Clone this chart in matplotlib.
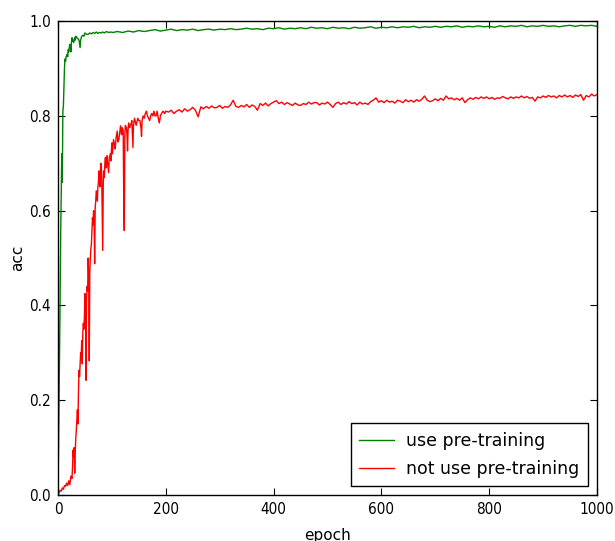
import matplotlib
matplotlib.use("Agg")
import matplotlib.pyplot as plt
from matplotlib import font_manager

# Data
pre_ep_head = [0, 1, 2, 3, 4, 5, 6, 7, 8, 9, 10, 11, 12, 13, 14, 15, 16, 17, 18, 19,
               20, 21, 22, 23, 24, 25, 26, 27, 28, 29, 30, 31, 32, 33, 35, 37, 39, 41, 42, 44,
               46, 48, 50, 53, 56, 59, 62, 65, 68, 71, 74, 77, 80, 83, 86, 90, 94, 98, 102]
pre_acc_head = [0.02, 0.1, 0.2, 0.3, 0.42, 0.55, 0.63, 0.72, 0.66, 0.81, 0.82, 0.86, 0.9, 0.92, 0.915,
                0.925, 0.926, 0.93, 0.925, 0.94, 0.935, 0.945, 0.951, 0.945, 0.935, 0.955, 0.965, 0.958,
                0.96, 0.955, 0.96, 0.965, 0.96, 0.968, 0.965, 0.963, 0.96, 0.944, 0.96, 0.968, 0.97,
                0.968, 0.975, 0.972, 0.972, 0.975, 0.973, 0.976, 0.974, 0.977, 0.974, 0.976, 0.975,
                0.977, 0.975, 0.978, 0.976, 0.977, 0.976]
pre_ep_tail = list(range(110, 1001, 10))
pre_acc_tail = [0.978, 0.976, 0.979, 0.977, 0.98, 0.978, 0.98, 0.982, 0.979, 0.981,
                0.983, 0.98, 0.982, 0.981, 0.983, 0.98, 0.982, 0.983, 0.981, 0.983,
                0.982, 0.984, 0.982, 0.983, 0.985, 0.983, 0.984, 0.982, 0.985, 0.984,
                0.986, 0.983, 0.985, 0.984, 0.986, 0.984, 0.987, 0.985, 0.986, 0.984,
                0.987, 0.985, 0.986, 0.984, 0.987, 0.985, 0.986, 0.988, 0.985, 0.987,
                0.986, 0.988, 0.986, 0.988, 0.987, 0.989, 0.986, 0.988, 0.987, 0.989,
                0.987, 0.989, 0.988, 0.99, 0.987, 0.989, 0.988, 0.99, 0.988, 0.989,
                0.987, 0.99, 0.988, 0.99, 0.989, 0.991, 0.988, 0.99, 0.989, 0.991,
                0.989, 0.99, 0.988, 0.99, 0.991, 0.989, 0.991, 0.99, 0.991, 0.989]

nopre_ep_head = [0, 2, 4, 6, 8, 10, 12, 14, 16, 18, 20, 22, 24, 26, 27, 28, 29, 30, 31, 32,
                 33, 34, 35, 36, 37, 38, 39, 40, 41, 42, 43, 44, 45, 46, 47, 48, 49, 50, 51, 52,
                 53, 54, 55, 56, 57, 58, 59, 60, 61, 62, 63, 64, 65, 66, 67, 68, 69, 70, 71, 72,
                 73, 74, 75, 76, 77, 78, 79, 80, 81, 82, 83, 84, 85, 86, 87, 88, 89, 90, 91, 92,
                 94, 95, 97, 98, 100, 101, 103, 105, 106, 108, 110, 111, 113, 115, 116, 118, 119, 121, 122, 123,
                 124, 125, 127, 128, 129, 130, 131, 133, 134, 136, 137, 138, 139, 140, 142, 143, 145, 146, 148, 150,
                 152, 154, 155, 156, 158, 160, 162, 164, 166, 168, 170, 172, 174, 176, 178, 180, 182, 184, 186, 188,
                 190, 192, 195, 198]
nopre_acc_head = [0.0, 0.005, 0.01, 0.008, 0.015, 0.012, 0.02, 0.018, 0.025, 0.02,
                  0.03, 0.022, 0.04, 0.035, 0.06, 0.095, 0.08, 0.1, 0.046, 0.09,
                  0.12, 0.137, 0.16, 0.18, 0.15, 0.22, 0.263, 0.25, 0.277, 0.3,
                  0.29, 0.326, 0.277, 0.34, 0.362, 0.35, 0.375, 0.425, 0.38, 0.242,
                  0.41, 0.44, 0.43, 0.5, 0.46, 0.283, 0.47, 0.5, 0.52, 0.53,
                  0.56, 0.585, 0.57, 0.6, 0.58, 0.488, 0.607, 0.62, 0.642, 0.63,
                  0.62, 0.65, 0.66, 0.684, 0.67, 0.65, 0.69, 0.70, 0.68, 0.6,
                  0.516, 0.66, 0.684, 0.67, 0.70, 0.712, 0.69, 0.70, 0.716, 0.70,
                  0.68, 0.71, 0.72, 0.705, 0.743, 0.72, 0.75, 0.74, 0.73, 0.755,
                  0.768, 0.745, 0.75, 0.77, 0.779, 0.76, 0.775, 0.77, 0.62, 0.558,
                  0.76, 0.78, 0.775, 0.76, 0.726, 0.77, 0.785, 0.775, 0.78, 0.785,
                  0.79, 0.76, 0.733, 0.78, 0.795, 0.79, 0.78, 0.785, 0.795, 0.79,
                  0.79, 0.775, 0.757, 0.79, 0.80, 0.795, 0.805, 0.81, 0.80, 0.795,
                  0.79, 0.80, 0.805, 0.80, 0.81, 0.80, 0.80, 0.81, 0.795, 0.785,
                  0.80, 0.805, 0.81, 0.805]
nopre_ep_tail = list(range(200, 1001, 5))
nopre_acc_tail = [0.81, 0.808, 0.812, 0.805, 0.81, 0.813, 0.808, 0.815, 0.81, 0.813,
                  0.818, 0.812, 0.798, 0.819, 0.815, 0.82, 0.816, 0.821, 0.817, 0.818,
                  0.822, 0.816, 0.82, 0.818, 0.823, 0.833, 0.82, 0.818, 0.822, 0.819,
                  0.824, 0.818, 0.823, 0.82, 0.812, 0.826, 0.822, 0.827, 0.821, 0.826,
                  0.829, 0.832, 0.826, 0.829, 0.824, 0.828, 0.825, 0.822, 0.827, 0.823,
                  0.822, 0.826, 0.824, 0.829, 0.825, 0.828, 0.828, 0.823, 0.827, 0.825,
                  0.829, 0.824, 0.818, 0.826, 0.829, 0.824, 0.828, 0.825, 0.83, 0.826,
                  0.828, 0.823, 0.829, 0.825, 0.827, 0.824, 0.83, 0.833, 0.838, 0.829,
                  0.832, 0.828, 0.833, 0.829, 0.831, 0.827, 0.833, 0.831, 0.828, 0.834,
                  0.83, 0.833, 0.829, 0.834, 0.831, 0.835, 0.842, 0.833, 0.83, 0.832,
                  0.836, 0.832, 0.837, 0.833, 0.842, 0.836, 0.838, 0.834, 0.837, 0.833,
                  0.838, 0.828, 0.834, 0.838, 0.835, 0.839, 0.836, 0.84, 0.837, 0.84,
                  0.836, 0.839, 0.835, 0.838, 0.837, 0.841, 0.838, 0.836, 0.84, 0.837,
                  0.84, 0.838, 0.842, 0.838, 0.841, 0.837, 0.839, 0.831, 0.84, 0.838,
                  0.842, 0.839, 0.843, 0.84, 0.842, 0.838, 0.843, 0.84, 0.844, 0.84,
                  0.843, 0.839, 0.844, 0.841, 0.845, 0.833, 0.843, 0.84, 0.846, 0.842,
                  0.845]

pre_ep = pre_ep_head + pre_ep_tail
pre_acc = pre_acc_head + pre_acc_tail
nopre_ep = nopre_ep_head + nopre_ep_tail
nopre_acc = nopre_acc_head + nopre_acc_tail

x_ticks = [0, 200, 400, 600, 800, 1000]
y_ticks = [0.0, 0.2, 0.4, 0.6, 0.8, 1.0]

# Tick font: narrow face if available
names = {f.name for f in font_manager.fontManager.ttflist}
tick_font = 'Liberation Sans Narrow' if 'Liberation Sans Narrow' in names else 'DejaVu Sans'
tick_stretch = 'normal' if tick_font == 'Liberation Sans Narrow' else 'condensed'

fig = plt.figure(figsize=(6.15, 5.41), dpi=100, facecolor='white')
ax = fig.add_axes([0.0943, 0.085, 0.8764, 0.876])

ax.plot(pre_ep, pre_acc, color='green', linewidth=1.0, label='use pre-training')
ax.plot(nopre_ep, nopre_acc, color='red', linewidth=1.0, label='not use pre-training')

ax.set_xlim(0, 1000)
ax.set_ylim(0.0, 1.0)
ax.set_xticks(x_ticks)
ax.set_yticks(y_ticks)
ax.set_xticklabels([str(v) for v in x_ticks], family=tick_font, stretch=tick_stretch, fontsize=11)
ax.set_yticklabels(['%.1f' % v for v in y_ticks], family=tick_font, stretch=tick_stretch, fontsize=11)
ax.tick_params(direction='in', top=True, right=True, length=5, width=0.8, pad=5)
for sp in ax.spines.values():
    sp.set_linewidth(1.0)

ax.set_xlabel('epoch', fontsize=11, labelpad=8)
ax.set_ylabel('acc', fontsize=11, labelpad=3)

leg = ax.legend(loc='lower right', fontsize=12.5, fancybox=False, framealpha=1,
                edgecolor='black', handlelength=2.0, handletextpad=0.7,
                borderpad=0.5, labelspacing=0.55, borderaxespad=0.5)
leg.get_frame().set_linewidth(1.0)

fig.savefig('out.png', dpi=100, facecolor='white')
